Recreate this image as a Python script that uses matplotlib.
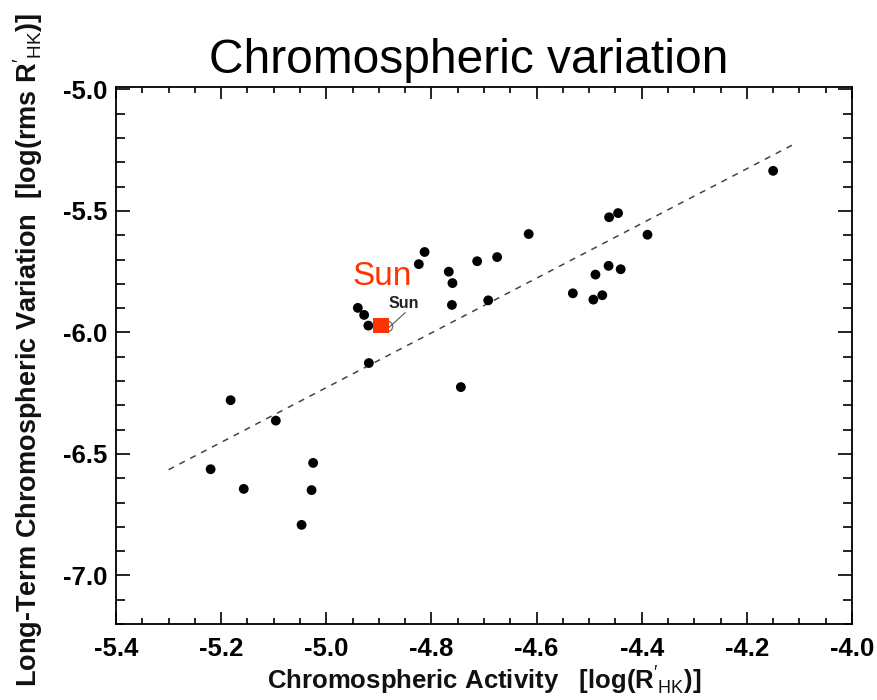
import matplotlib
matplotlib.use('Agg')
import matplotlib.pyplot as plt
from matplotlib.ticker import MultipleLocator

# ==============================
# DATA
# ==============================
activity = [-5.182, -5.096, -5.220, -5.157, -5.025, -5.028, -5.047, -4.919,
            -4.150, -4.462, -4.445, -4.389, -4.615, -4.713, -4.675, -4.767,
            -4.760, -4.761, -4.692, -4.531, -4.488, -4.463, -4.440, -4.492,
            -4.475, -4.744, -4.813, -4.824, -4.940, -4.928, -4.920]
variation = [-6.279, -6.363, -6.563, -6.644, -6.537, -6.649, -6.792, -6.126,
             -5.335, -5.526, -5.509, -5.598, -5.595, -5.707, -5.690, -5.750,
             -5.797, -5.887, -5.868, -5.839, -5.762, -5.726, -5.740, -5.865,
             -5.847, -6.225, -5.669, -5.719, -5.899, -5.928, -5.972]

sun_activity = -4.885
sun_variation = -5.972

fit_x = [-5.30, -4.11]
fit_y = [-6.565, -5.225]

FONT = 'Liberation Sans'
plt.rcParams['font.family'] = [FONT, 'DejaVu Sans']
plt.rcParams['mathtext.fontset'] = 'custom'
plt.rcParams['mathtext.rm'] = 'Liberation Sans'
plt.rcParams['mathtext.bf'] = 'Liberation Sans:bold'

fig = plt.figure(figsize=(8.78, 7.0), dpi=100)
ax = fig.add_axes([116 / 878, 1 - 624 / 700, (852 - 116) / 878, (624 - 87) / 700])

# --- fit line and points ---
ax.plot(fit_x, fit_y, linestyle=(0, (4, 4)), color='#444444', linewidth=1.1, zorder=2)
ax.scatter(activity, variation, s=50, color='black', edgecolors='none', zorder=3)

# sun: grey open circle with red square over it
ax.scatter([sun_activity], [sun_variation], s=55, facecolors='white',
           edgecolors='#777777', linewidths=1, zorder=3)
ax.scatter([sun_activity - 0.011], [sun_variation], s=120, marker='s', color='#FF3300',
           edgecolors='none', zorder=4)
ax.plot([sun_activity + 0.002, sun_activity + 0.035], [sun_variation - 0.012, sun_variation + 0.053],
        color='#555555', linewidth=0.8, zorder=3)
ax.text(sun_activity + 0.033, sun_variation + 0.073, 'Sun', fontsize=11.5, fontweight='bold',
        color='#222222', ha='center', va='baseline')
ax.text(sun_activity - 0.008, sun_variation + 0.166, 'Sun', fontsize=24, color='#FF3300',
        ha='center', va='baseline')

# --- axes styling ---
ax.set_xlim(-5.4, -4.0)
ax.set_ylim(-7.2, -4.99)
ax.xaxis.set_minor_locator(MultipleLocator(0.05))
ax.yaxis.set_minor_locator(MultipleLocator(0.1))
ax.set_xticks([-5.4, -5.2, -5.0, -4.8, -4.6, -4.4, -4.2, -4.0])
ax.set_yticks([-7.0, -6.5, -6.0, -5.5, -5.0])

ax.tick_params(which='both', direction='in', top=True, right=True, width=1.2, colors='black')
ax.tick_params(axis='x', which='major', length=8.5, pad=9)
ax.tick_params(axis='x', which='minor', length=4.5)
ax.tick_params(axis='y', which='major', length=10, pad=6)
ax.tick_params(axis='y', which='minor', length=6.5)
ax.xaxis.set_major_formatter(plt.FuncFormatter(lambda v, p: f'{v:.1f}'))
ax.yaxis.set_major_formatter(plt.FuncFormatter(lambda v, p: f'{v:.1f}'))
for lab in ax.get_xticklabels() + ax.get_yticklabels():
    lab.set_fontsize(18.5)
    lab.set_fontweight('bold')
for sp in ax.spines.values():
    sp.set_linewidth(1.3)

fig.text(484 / 878, 1 - 689 / 700, "Chromospheric Activity   [log($\\mathbf{R}'_{\\mathrm{HK}}$)]",
         fontsize=18.5, fontweight='bold', ha='center', va='baseline', color='#111111')
fig.text(37 / 878, 1 - 350 / 700, "Long-Term Chromospheric Variation  [log(rms $\\mathbf{R}'_{\\mathrm{HK}}$)]",
         fontsize=19.5, fontweight='bold', ha='center', va='baseline', rotation=90,
         rotation_mode='anchor', color='#111111')

fig.text(469 / 878, 1 - 72.7 / 700, 'Chromospheric variation', fontsize=34.5,
         ha='center', va='baseline', color='black')

fig.savefig('out.png', dpi=100)
plt.close(fig)
